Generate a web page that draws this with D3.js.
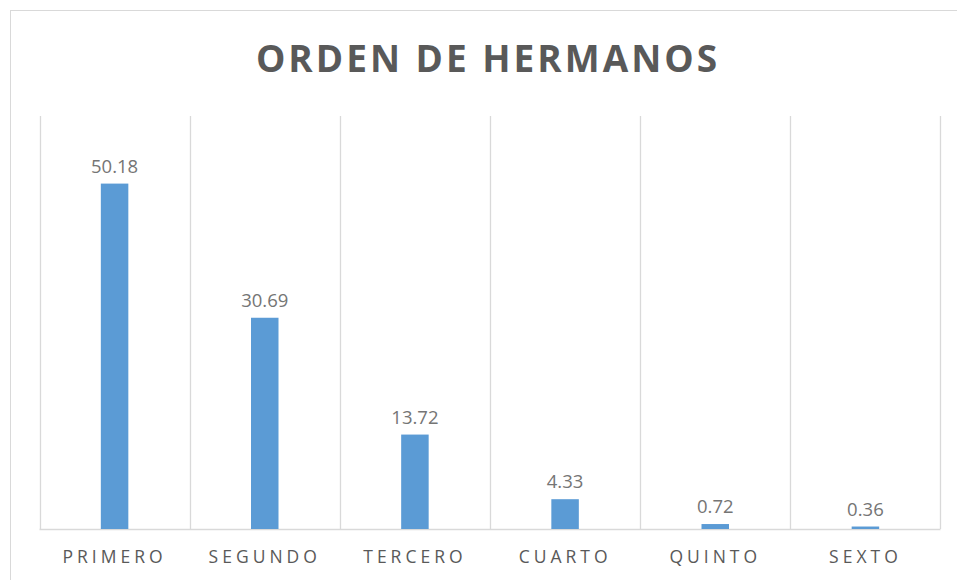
<!DOCTYPE html>
<html>
<head>
<meta charset="utf-8">
<script src="https://cdn.jsdelivr.net/npm/d3@7"></script>
<style>
  body { margin: 0; background: #fff; }
  text { font-family: "Open Sans", sans-serif; }
</style>
</head>
<body>
<svg id="chart"></svg>
<script>
// datos del grafico
const categories = ['PRIMERO', 'SEGUNDO', 'TERCERO', 'CUARTO', 'QUINTO', 'SEXTO'];
const values = [50.18, 30.69, 13.72, 4.33, 0.72, 0.36];
const valueLabels = ['50.18', '30.69', '13.72', '4.33', '0.72', '0.36'];
const titleText = 'ORDEN DE HERMANOS';

const width = 957;
const height = 580;
const margin = { top: 116, right: 16.5, bottom: 51, left: 39.5 };

const svg = d3.select('#chart')
    .attr('width', width)
    .attr('height', height);

// marco exterior
svg.append('rect')
    .attr('x', 10.5)
    .attr('y', 10.5)
    .attr('width', 960)
    .attr('height', 600)
    .attr('fill', 'none')
    .attr('stroke', '#d9d9d9');

const x = d3.scaleBand()
    .domain(categories)
    .range([margin.left, width - margin.right])
    .paddingInner(0)
    .paddingOuter(0);

const y = d3.scaleLinear()
    .domain([0, 60])
    .range([height - margin.bottom, margin.top]);

// lineas verticales entre categorias
const bounds = categories.map(c => x(c)).concat([x(categories[categories.length - 1]) + x.bandwidth()]);
svg.append('g')
    .selectAll('line')
    .data(bounds)
    .enter()
    .append('line')
    .attr('x1', d => Math.round(d) + 0.5)
    .attr('x2', d => Math.round(d) + 0.5)
    .attr('y1', y(60))
    .attr('y2', y(0))
    .attr('stroke', '#d9d9d9')
    .attr('stroke-width', 1.3);

// eje x
svg.append('line')
    .attr('x1', bounds[0])
    .attr('x2', bounds[bounds.length - 1])
    .attr('y1', y(0) + 0.5)
    .attr('y2', y(0) + 0.5)
    .attr('stroke', '#d9d9d9')
    .attr('stroke-width', 1.3);

const barWidth = 27.5;

svg.append('g')
    .selectAll('rect')
    .data(values)
    .enter()
    .append('rect')
    .attr('x', (d, i) => x(categories[i]) + x.bandwidth() / 2 - barWidth / 2)
    .attr('y', d => y(d))
    .attr('width', barWidth)
    .attr('height', d => y(0) - y(d))
    .attr('fill', '#5B9BD5');

// etiquetas de valores
svg.append('g')
    .selectAll('text')
    .data(values)
    .enter()
    .append('text')
    .attr('x', (d, i) => x(categories[i]) + x.bandwidth() / 2)
    .attr('y', d => y(d) - 11)
    .attr('text-anchor', 'middle')
    .attr('font-size', 18.5)
    .attr('fill', '#757575')
    .text((d, i) => valueLabels[i]);

// etiquetas de categorias
svg.append('g')
    .selectAll('text')
    .data(categories)
    .enter()
    .append('text')
    .attr('x', d => x(d) + x.bandwidth() / 2)
    .attr('y', 563)
    .attr('text-anchor', 'middle')
    .attr('font-size', 17.5)
    .attr('letter-spacing', '4px')
    .attr('fill', '#595959')
    .text(d => d);

// titulo
svg.append('text')
    .attr('x', 488)
    .attr('y', 72)
    .attr('text-anchor', 'middle')
    .attr('font-size', 37)
    .attr('font-weight', 'bold')
    .attr('letter-spacing', '3px')
    .attr('fill', '#595959')
    .text(titleText);
</script>
</body>
</html>
